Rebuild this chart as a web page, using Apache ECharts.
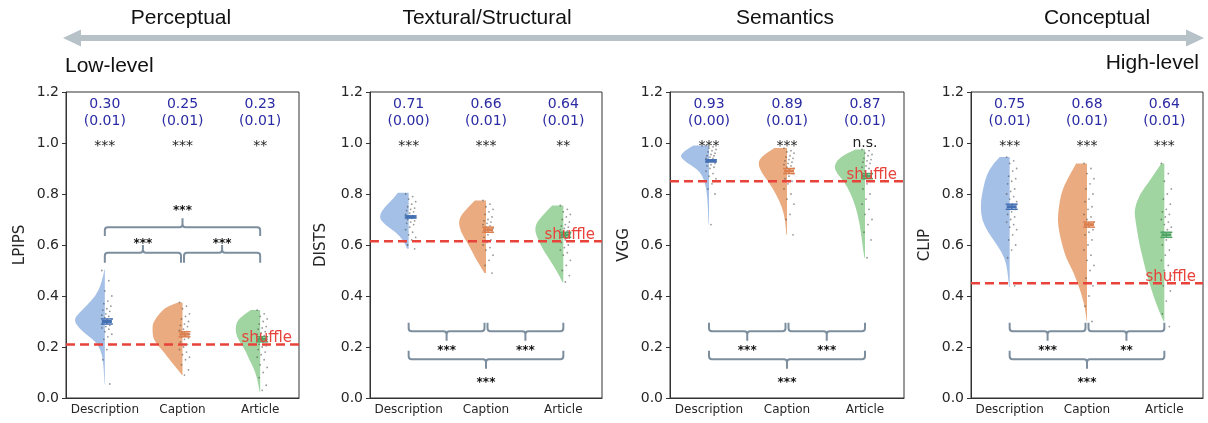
<!DOCTYPE html>
<html><head><meta charset="utf-8">
<script src="https://cdn.jsdelivr.net/npm/echarts@6/dist/echarts.min.js"></script>
<style>html,body{margin:0;padding:0;background:#fff}#c{width:1208px;height:423px}</style>
</head><body><div id="c"></div>
<script>
// ---------- DATA ----------
const categories = ['Description', 'Caption', 'Article'];
const metricNames = ['LPIPS', 'DISTS', 'VGG', 'CLIP'];
const levelLabels = ['Perceptual', 'Textural/Structural', 'Semantics', 'Conceptual'];
const endLabels = ['Low-level', 'High-level'];
const yTickLabels = ['0.0', '0.2', '0.4', '0.6', '0.8', '1.0', '1.2'];

const lpipsMeans = [0.30, 0.25, 0.23];
const lpipsSE = [0.01, 0.01, 0.01];
const lpipsStars = ['***', '***', '**'];
const lpipsPairStars = ['***', '***', '***']; // Desc-Cap, Cap-Art, Desc-Art
const lpipsShuffle = 0.21;

const distsMeans = [0.71, 0.66, 0.64];
const distsSE = [0.00, 0.01, 0.01];
const distsStars = ['***', '***', '**'];
const distsPairStars = ['***', '***', '***'];
const distsShuffle = 0.615;

const vggMeans = [0.93, 0.89, 0.87];
const vggSE = [0.00, 0.01, 0.01];
const vggStars = ['***', '***', 'n.s.'];
const vggPairStars = ['***', '***', '***'];
const vggShuffle = 0.85;

const clipMeans = [0.75, 0.68, 0.64];
const clipSE = [0.01, 0.01, 0.01];
const clipStars = ['***', '***', '***'];
const clipPairStars = ['***', '**', '***'];
const clipShuffle = 0.45;

// violin outlines: [value, relative density]
const lpipsViolinDesc = [[0.505,0.01],[0.45,0.1],[0.40,0.3],[0.36,0.6],[0.333,0.84],[0.306,1.0],[0.274,0.84],[0.24,0.5],[0.22,0.3],[0.19,0.14],[0.15,0.06],[0.10,0.03],[0.055,0.01]];
const lpipsViolinCap = [[0.375,0.15],[0.36,0.5],[0.333,0.74],[0.30,0.92],[0.283,0.97],[0.25,0.96],[0.23,0.93],[0.20,0.75],[0.18,0.6],[0.14,0.35],[0.11,0.14],[0.09,0.02]];
const lpipsViolinArt = [[0.345,0.3],[0.32,0.6],[0.30,0.75],[0.27,0.8],[0.24,0.75],[0.21,0.6],[0.18,0.45],[0.15,0.35],[0.12,0.22],[0.08,0.1],[0.025,0.02]];

const distsViolinDesc = [[0.805,0.35],[0.78,0.5],[0.75,0.78],[0.71,0.97],[0.68,0.78],[0.65,0.4],[0.62,0.2],[0.60,0.1],[0.585,0.05]];
const distsViolinCap = [[0.775,0.36],[0.74,0.65],[0.70,0.9],[0.65,0.82],[0.60,0.55],[0.55,0.35],[0.52,0.2],[0.49,0.05]];
const distsViolinArt = [[0.755,0.36],[0.72,0.65],[0.67,0.97],[0.60,0.75],[0.55,0.48],[0.50,0.22],[0.455,0.03]];

const vggViolinDesc = [[0.99,0.5],[0.957,0.97],[0.93,0.8],[0.90,0.4],[0.87,0.2],[0.83,0.1],[0.78,0.05],[0.70,0.02],[0.68,0.01]];
const vggViolinCap = [[0.98,0.4],[0.95,0.8],[0.92,0.94],[0.88,0.8],[0.85,0.6],[0.80,0.35],[0.75,0.16],[0.70,0.06],[0.64,0.02]];
const vggViolinArt = [[0.975,0.3],[0.95,0.78],[0.91,1.0],[0.88,0.9],[0.85,0.67],[0.80,0.45],[0.75,0.3],[0.70,0.2],[0.65,0.13],[0.60,0.08],[0.55,0.02]];

const clipViolinDesc = [[0.945,0.32],[0.90,0.7],[0.80,0.9],[0.75,0.94],[0.70,0.9],[0.65,0.7],[0.60,0.4],[0.55,0.16],[0.50,0.07],[0.435,0.02]];
const clipViolinCap = [[0.92,0.35],[0.85,0.68],[0.80,0.84],[0.75,0.91],[0.70,0.95],[0.65,0.9],[0.60,0.8],[0.55,0.68],[0.50,0.46],[0.45,0.3],[0.40,0.16],[0.35,0.06],[0.30,0.01]];
const clipViolinArt = [[0.92,0.1],[0.85,0.48],[0.80,0.8],[0.74,0.97],[0.70,0.94],[0.65,0.87],[0.60,0.8],[0.55,0.7],[0.50,0.6],[0.45,0.48],[0.40,0.35],[0.35,0.2],[0.30,0.02]];

// individual observations (read approximately)
const lpipsPtsDesc = [0.50,0.46,0.42,0.40,0.38,0.37,0.36,0.35,0.345,0.34,0.33,0.325,0.32,0.315,0.31,0.305,0.30,0.30,0.295,0.29,0.285,0.28,0.275,0.27,0.26,0.25,0.24,0.23,0.21,0.19,0.15,0.055];
const lpipsPtsCap = [0.375,0.36,0.35,0.33,0.32,0.31,0.30,0.29,0.285,0.28,0.27,0.265,0.26,0.255,0.25,0.245,0.24,0.235,0.23,0.22,0.21,0.20,0.19,0.18,0.17,0.16,0.15,0.13,0.11,0.09];
const lpipsPtsArt = [0.345,0.33,0.32,0.31,0.30,0.29,0.28,0.275,0.27,0.26,0.255,0.25,0.245,0.24,0.23,0.22,0.21,0.205,0.20,0.19,0.18,0.17,0.16,0.15,0.13,0.12,0.10,0.08,0.05,0.03];
const distsPtsDesc = [0.80,0.79,0.78,0.77,0.76,0.75,0.745,0.74,0.735,0.73,0.725,0.72,0.715,0.71,0.71,0.705,0.70,0.695,0.69,0.685,0.68,0.67,0.66,0.65,0.64,0.63,0.62,0.60,0.585];
const distsPtsCap = [0.775,0.76,0.75,0.74,0.73,0.72,0.71,0.70,0.695,0.69,0.685,0.68,0.675,0.67,0.665,0.66,0.655,0.65,0.64,0.63,0.62,0.61,0.60,0.59,0.58,0.56,0.54,0.52,0.49];
const distsPtsArt = [0.755,0.74,0.73,0.72,0.71,0.70,0.69,0.68,0.675,0.67,0.665,0.66,0.655,0.65,0.645,0.64,0.635,0.63,0.62,0.61,0.60,0.59,0.58,0.57,0.56,0.54,0.52,0.50,0.48,0.455];
const vggPtsDesc = [0.99,0.985,0.98,0.975,0.97,0.965,0.96,0.955,0.95,0.95,0.945,0.94,0.94,0.935,0.93,0.93,0.925,0.92,0.915,0.91,0.905,0.90,0.89,0.88,0.87,0.86,0.84,0.82,0.80,0.68];
const vggPtsCap = [0.98,0.97,0.965,0.96,0.95,0.945,0.94,0.935,0.93,0.925,0.92,0.915,0.91,0.905,0.90,0.895,0.89,0.88,0.87,0.86,0.85,0.84,0.82,0.80,0.78,0.76,0.72,0.70,0.64];
const vggPtsArt = [0.975,0.97,0.96,0.955,0.95,0.94,0.935,0.93,0.925,0.92,0.91,0.905,0.90,0.89,0.88,0.87,0.86,0.85,0.84,0.82,0.80,0.78,0.76,0.74,0.72,0.70,0.68,0.65,0.62,0.55];
const clipPtsDesc = [0.945,0.93,0.92,0.90,0.89,0.87,0.86,0.85,0.84,0.82,0.81,0.80,0.79,0.78,0.77,0.76,0.75,0.74,0.73,0.72,0.71,0.70,0.69,0.68,0.67,0.66,0.64,0.62,0.60,0.58,0.55,0.44];
const clipPtsCap = [0.92,0.90,0.88,0.86,0.84,0.82,0.80,0.78,0.77,0.75,0.74,0.72,0.71,0.70,0.69,0.68,0.67,0.66,0.65,0.64,0.62,0.60,0.58,0.56,0.54,0.52,0.50,0.47,0.44,0.40,0.36,0.30];
const clipPtsArt = [0.92,0.88,0.85,0.82,0.80,0.78,0.76,0.74,0.73,0.72,0.71,0.70,0.69,0.68,0.67,0.66,0.65,0.64,0.62,0.60,0.58,0.56,0.54,0.52,0.50,0.48,0.46,0.44,0.42,0.38,0.33,0.28];

// ---------- STYLE / LAYOUT ----------
const FONT = 'DejaVu Sans';
const violinColors = ['#a5c0e6', '#eaab80', '#a0d5a1'];
const darkColors = ['#4470b3', '#dd8050', '#4fa565'];
const blueText = '#2a2aa3';
const bracketColor = '#7d8f9e';
const redColor = '#e8433b';

const panels = [
  {means: lpipsMeans, se: lpipsSE, stars: lpipsStars, pairs: lpipsPairStars, shuffle: lpipsShuffle,
   violins: [lpipsViolinDesc, lpipsViolinCap, lpipsViolinArt], pts: [lpipsPtsDesc, lpipsPtsCap, lpipsPtsArt], above: true},
  {means: distsMeans, se: distsSE, stars: distsStars, pairs: distsPairStars, shuffle: distsShuffle,
   violins: [distsViolinDesc, distsViolinCap, distsViolinArt], pts: [distsPtsDesc, distsPtsCap, distsPtsArt], above: false},
  {means: vggMeans, se: vggSE, stars: vggStars, pairs: vggPairStars, shuffle: vggShuffle,
   violins: [vggViolinDesc, vggViolinCap, vggViolinArt], pts: [vggPtsDesc, vggPtsCap, vggPtsArt], above: false},
  {means: clipMeans, se: clipSE, stars: clipStars, pairs: clipPairStars, shuffle: clipShuffle,
   violins: [clipViolinDesc, clipViolinCap, clipViolinArt], pts: [clipPtsDesc, clipPtsCap, clipPtsArt], above: false}
];

const gridBoxes = [
  {left: 66, width: 233}, {left: 370, width: 232}, {left: 670, width: 234}, {left: 971, width: 232}
];
const nameGaps = [38, 41, 38, 38];

// bracket geometry in data units: [ends, bar, tip, starsY]
const bracketAbove = {adj: [0.53, 0.57, 0.60, 0.615], span: [0.635, 0.67, 0.705, 0.745]};
const bracketBelow = {adj: [0.295, 0.262, 0.225, 0.198], span: [0.185, 0.152, 0.115, 0.07]};

function bracketPath(x1, x2, yE, yB, yT) {
  const r = 3;
  const s = yE > yB ? 1 : -1;
  const xm = (x1 + x2) / 2;
  return `M${x1} ${yE} L${x1} ${yB + s * r} Q${x1} ${yB} ${x1 + r} ${yB} L${xm - r} ${yB} Q${xm} ${yB} ${xm} ${yB - s * r} L${xm} ${yT}` +
         ` M${xm} ${yT} L${xm} ${yB - s * r} Q${xm} ${yB} ${xm + r} ${yB} L${x2 - r} ${yB} Q${x2} ${yB} ${x2} ${yB + s * r} L${x2} ${yE}`;
}

function starOffset(t, fs) { return t.indexOf('*') >= 0 ? fs * 0.25 : 0; }

function makeRender(pi) {
  const P = panels[pi];
  return function (params, api) {
    const cs = params.coordSys;
    const band = api.size([1, 0])[0];
    const maxW = band * 0.4;
    const ch = [];
    const X = ci => api.coord([ci, 0])[0];
    const Y = v => api.coord([0, v])[1];

    // violins
    P.violins.forEach((v, ci) => {
      const cx = X(ci);
      const pts = v.map(([y, w]) => [cx - w * maxW, Y(y)]);
      let d = `M${cx} ${pts[0][1]} L${pts[0][0]} ${pts[0][1]}`;
      for (let k = 1; k < pts.length - 1; k++) {
        const mx = (pts[k][0] + pts[k + 1][0]) / 2, my = (pts[k][1] + pts[k + 1][1]) / 2;
        d += ` Q${pts[k][0]} ${pts[k][1]} ${mx} ${my}`;
      }
      const last = pts[pts.length - 1];
      d += ` L${last[0]} ${last[1]} L${cx} ${last[1]} Z`;
      ch.push({type: 'path', shape: {pathData: d}, style: {fill: violinColors[ci]}});
    });

    // jittered observations
    P.pts.forEach((arr, ci) => {
      const cx = X(ci);
      arr.forEach((v, k) => {
        const off = -3 + ((k * 7) % 11);
        ch.push({type: 'circle', shape: {cx: cx + off, cy: Y(v), r: 0.9}, style: {fill: 'rgba(70,70,70,0.55)'}});
      });
    });

    // mean +/- SE
    P.means.forEach((m, ci) => {
      const cx = X(ci) + 2;
      const se = Math.max(P.se[ci], 0.004);
      const y0 = Y(m - se), y1 = Y(m + se), ym = Y(m);
      const st = {stroke: darkColors[ci], lineWidth: 1.5};
      ch.push({type: 'line', shape: {x1: cx, y1: y0, x2: cx, y2: y1}, style: st});
      ch.push({type: 'line', shape: {x1: cx - 6, y1: y0, x2: cx + 6, y2: y0}, style: st});
      ch.push({type: 'line', shape: {x1: cx - 6, y1: y1, x2: cx + 6, y2: y1}, style: st});
      ch.push({type: 'rect', shape: {x: cx - 5, y: ym - 1.5, width: 10, height: 3}, style: {fill: darkColors[ci]}});
    });

    // shuffle baseline
    const ys = Y(P.shuffle);
    ch.push({type: 'line', shape: {x1: cs.x, y1: ys, x2: cs.x + cs.width, y2: ys},
      style: {stroke: redColor, lineWidth: 2.5, lineDash: [9, 5]}});
    ch.push({type: 'text', style: {text: 'shuffle', x: cs.x + cs.width - 7, y: ys + 1, align: 'right', verticalAlign: 'bottom',
      fontSize: 15, fontFamily: FONT, fill: redColor}});

    // top annotations
    P.means.forEach((m, ci) => {
      const cx = X(ci);
      ch.push({type: 'text', style: {text: m.toFixed(2), x: cx, y: Y(1.15), align: 'center', verticalAlign: 'middle', fontSize: 14, fontFamily: FONT, fill: blueText}});
      ch.push({type: 'text', style: {text: '(' + P.se[ci].toFixed(2) + ')', x: cx, y: Y(1.085), align: 'center', verticalAlign: 'middle', fontSize: 14, fontFamily: FONT, fill: blueText}});
      const t = P.stars[ci];
      const fs = 14;
      ch.push({type: 'text', style: {text: t, x: cx, y: Y(1.0) + starOffset(t, fs), align: 'center', verticalAlign: 'middle', fontSize: fs, fontFamily: FONT, fill: '#222'}});
    });

    // significance brackets
    const B = P.above ? bracketAbove : bracketBelow;
    const bst = {stroke: bracketColor, lineWidth: 2, fill: null};
    const x0 = X(0), x1 = X(1), x2 = X(2);
    const pairsDef = [[x0, x1 - 1.5, B.adj, 0], [x1 + 1.5, x2, B.adj, 1], [x0, x2, B.span, 2]];
    pairsDef.forEach(([a, b, g, k]) => {
      ch.push({type: 'path', shape: {pathData: bracketPath(a, b, Y(g[0]), Y(g[1]), Y(g[2]))}, style: bst});
      const t = P.pairs[k];
      ch.push({type: 'text', style: {text: t, x: (a + b) / 2, y: Y(g[3]) + starOffset(t, 12), align: 'center', verticalAlign: 'middle',
        fontSize: 12, fontWeight: 'bold', fontFamily: FONT, fill: '#111'}});
    });

    return {type: 'group', children: ch};
  };
}

const chart = echarts.init(document.getElementById('c'), null, {renderer: 'canvas'});
const grids = [], xAxes = [], yAxes = [], series = [];
panels.forEach((P, i) => {
  grids.push({left: gridBoxes[i].left, width: gridBoxes[i].width, top: 92, bottom: 25, show: true, borderColor: '#333', borderWidth: 1, backgroundColor: 'transparent'});
  xAxes.push({gridIndex: i, type: 'category', data: categories, boundaryGap: true,
    axisLine: {lineStyle: {color: '#333', width: 1}},
    axisTick: {alignWithLabel: true, length: 4, lineStyle: {color: '#333'}},
    axisLabel: {interval: 0, hideOverlap: false, fontSize: 12, color: '#262626', fontFamily: FONT, margin: 6},
    splitLine: {show: false}});
  yAxes.push({gridIndex: i, type: 'value', min: 0, max: 1.2, interval: 0.2,
    name: metricNames[i], nameLocation: 'middle', nameGap: nameGaps[i],
    nameTextStyle: {fontSize: 15, color: '#262626', fontFamily: FONT},
    axisLine: {show: true, lineStyle: {color: '#333', width: 1}},
    axisTick: {show: true, length: 4, lineStyle: {color: '#333'}},
    axisLabel: {fontSize: 14, color: '#262626', fontFamily: FONT, margin: 7,
      formatter: v => yTickLabels[Math.round(v / 0.2)]},
    splitLine: {show: false}});
  series.push({type: 'custom', xAxisIndex: i, yAxisIndex: i, data: [[0, 0]], renderItem: makeRender(i), silent: true, clip: false, z: 2});
});

const HF = 'Liberation Sans';
const HFS = 21;
const arrowY = 38;
const graphics = [
  {type: 'polygon', shape: {points: [[63, arrowY], [81, arrowY - 8.5], [81, arrowY - 3], [1186, arrowY - 3], [1186, arrowY - 8.5], [1204, arrowY], [1186, arrowY + 8.5], [1186, arrowY + 3], [81, arrowY + 3], [81, arrowY + 8.5]]},
   style: {fill: '#b7c1c8'}},
  {type: 'text', x: 181, y: 18, style: {text: levelLabels[0], align: 'center', verticalAlign: 'middle', fontSize: HFS, fontFamily: HF, fill: '#111'}},
  {type: 'text', x: 487, y: 18, style: {text: levelLabels[1], align: 'center', verticalAlign: 'middle', fontSize: HFS, fontFamily: HF, fill: '#111'}},
  {type: 'text', x: 785, y: 18, style: {text: levelLabels[2], align: 'center', verticalAlign: 'middle', fontSize: HFS, fontFamily: HF, fill: '#111'}},
  {type: 'text', x: 1097, y: 18, style: {text: levelLabels[3], align: 'center', verticalAlign: 'middle', fontSize: HFS, fontFamily: HF, fill: '#111'}},
  {type: 'text', x: 65, y: 66, style: {text: endLabels[0], align: 'left', verticalAlign: 'middle', fontSize: HFS, fontFamily: HF, fill: '#111'}},
  {type: 'text', x: 1199, y: 63, style: {text: endLabels[1], align: 'right', verticalAlign: 'middle', fontSize: HFS, fontFamily: HF, fill: '#111'}}
];

chart.setOption({
  animation: false,
  backgroundColor: '#fff',
  grid: grids, xAxis: xAxes, yAxis: yAxes, series: series,
  graphic: {elements: graphics}
});
</script>
</body></html>
